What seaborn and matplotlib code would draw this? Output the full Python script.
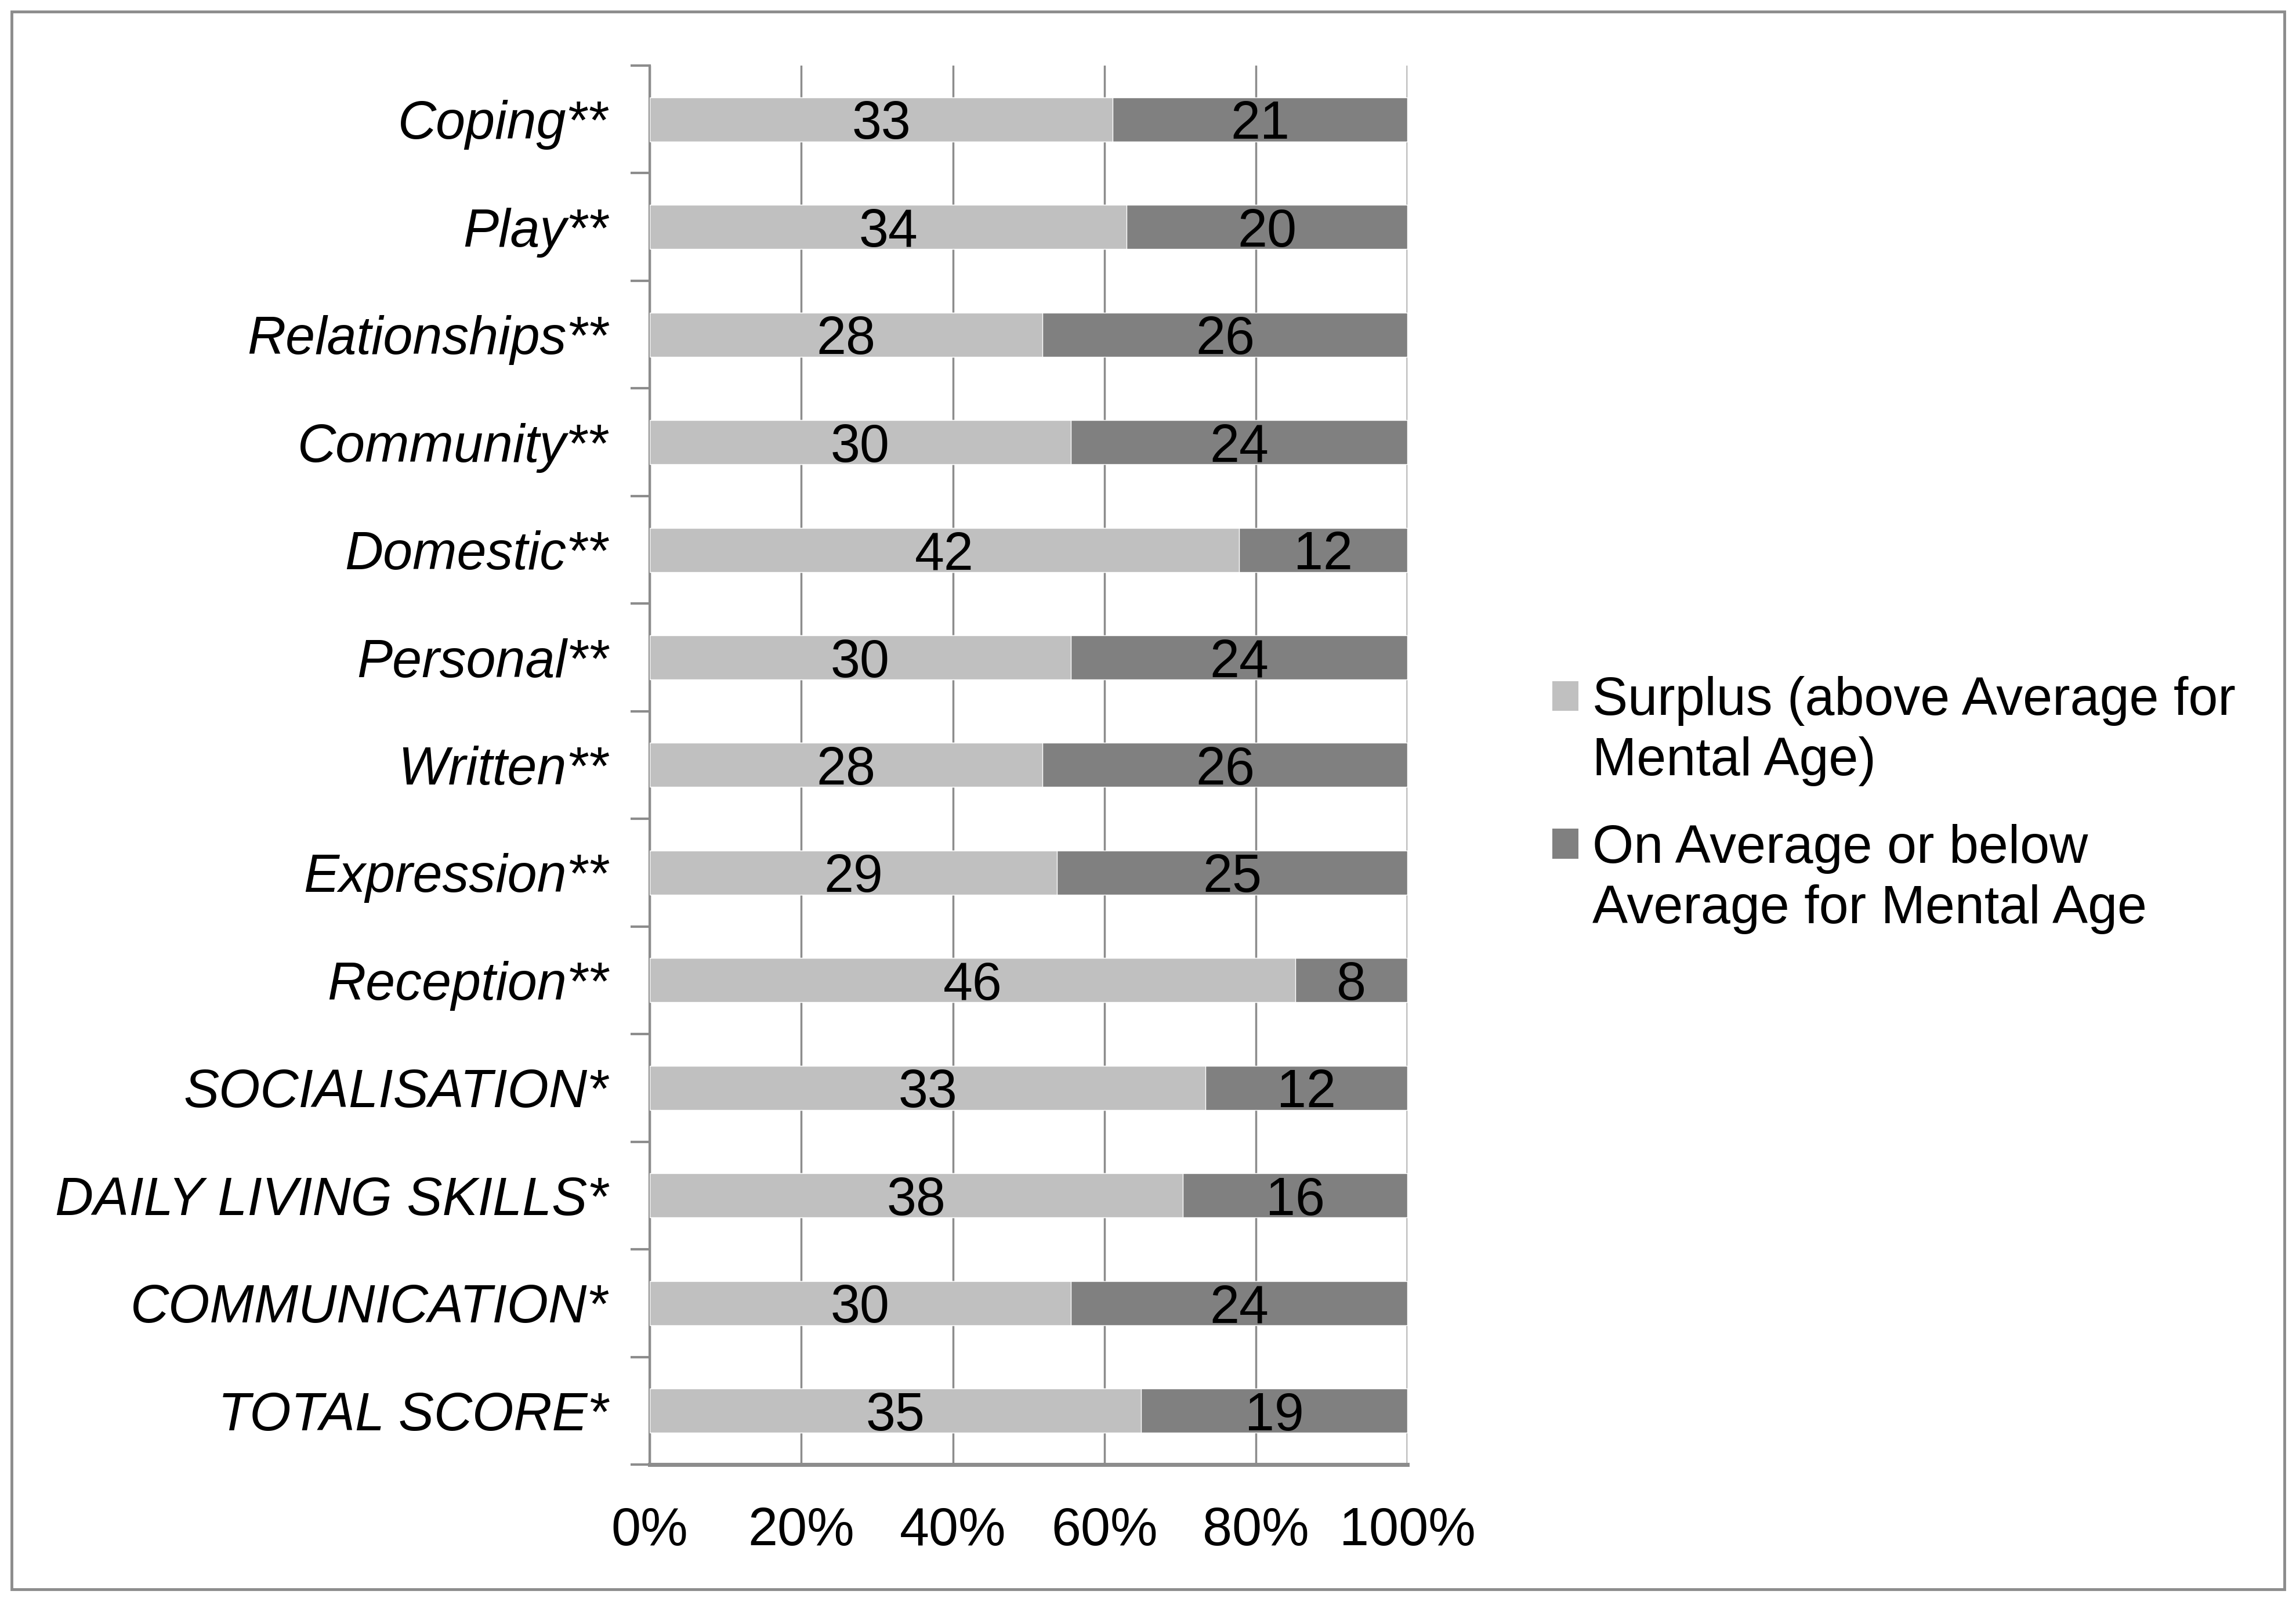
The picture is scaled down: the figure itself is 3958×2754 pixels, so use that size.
import numpy as np
import pandas as pd
import matplotlib
matplotlib.use("Agg")
import matplotlib.pyplot as plt
import seaborn as sns
from matplotlib.patches import Rectangle

categories = ['Coping**', 'Play**', 'Relationships**', 'Community**', 'Domestic**',
              'Personal**', 'Written**', 'Expression**', 'Reception**',
              'SOCIALISATION*', 'DAILY LIVING SKILLS*', 'COMMUNICATION*', 'TOTAL SCORE*']
surplus = [33, 34, 28, 30, 42, 30, 28, 29, 46, 33, 38, 30, 35]
below = [21, 20, 26, 24, 12, 24, 26, 25, 8, 12, 16, 24, 19]
x_ticks = [0, 20, 40, 60, 80, 100]
x_tick_labels = ['0%', '20%', '40%', '60%', '80%', '100%']
legend_lines = [['Surplus (above Average for', 'Mental Age)'],
                ['On Average or below', 'Average for Mental Age']]

LIGHT = '#C0C0C0'
DARK = '#808080'
LINE = '#8C8C8C'
FS = 66

df = pd.DataFrame({'cat': categories, 'surplus': surplus, 'below': below})
df['total'] = df['surplus'] + df['below']
df['surplus_pct'] = df['surplus'] / df['total'] * 100
df['full_pct'] = 100.0

sns.set_style("white")
plt.rcParams['font.family'] = ['Liberation Sans', 'DejaVu Sans']
plt.rcParams['text.color'] = 'black'
plt.rcParams['xtick.labelcolor'] = 'black'
plt.rcParams['ytick.labelcolor'] = 'black'

fig = plt.figure(figsize=(39.58, 27.54), dpi=100)
ax = fig.add_axes([0.283, 0.0835, 0.330, 0.8755])

# stacked: full bar in dark, surplus share on top in light
sns.barplot(data=df, x='full_pct', y='cat', color=DARK, width=0.41,
            saturation=1, ax=ax, zorder=2)
sns.barplot(data=df, x='surplus_pct', y='cat', color=LIGHT, width=0.41,
            saturation=1, ax=ax, zorder=3)

# value labels in the middle of each segment
for i, row in df.iterrows():
    ax.text(row['surplus_pct'] / 2, i, str(row['surplus']),
            ha='center', va='center_baseline', fontsize=FS, color='black', zorder=4)
    ax.text((row['surplus_pct'] + 100) / 2, i, str(row['below']),
            ha='center', va='center_baseline', fontsize=FS, color='black', zorder=4)

ax.set_xlim(0, 100)
ax.set_ylim(len(categories) - 0.5, -0.5)
ax.set_axisbelow(True)
ax.xaxis.grid(True, color=LINE, linewidth=2.5)
ax.yaxis.grid(False)

ax.set_xticks(x_ticks, x_tick_labels)
ax.tick_params(axis='x', length=0, pad=52, labelsize=FS)
ax.tick_params(axis='y', which='major', length=0, pad=52, labelsize=FS)
ax.set_yticks(np.arange(-0.5, len(categories), 1), minor=True)
ax.tick_params(axis='y', which='minor', left=True, length=24, width=3, color=LINE)
for lbl in ax.get_yticklabels():
    lbl.set_style('italic')
ax.set_xlabel('')
ax.set_ylabel('')

for s in ['top', 'right']:
    ax.spines[s].set_visible(False)
ax.spines['left'].set_color(LINE)
ax.spines['left'].set_linewidth(3)
ax.spines['bottom'].set_color(LINE)
ax.spines['bottom'].set_linewidth(5)

# one legend per entry so the marker sits by the first line
for col, lines, top in zip([LIGHT, DARK], legend_lines, [0.577, 0.4845]):
    handles = [Rectangle((0, 0), 1, 1, facecolor=col, edgecolor='none')]
    handles += [Rectangle((0, 0), 1, 1, facecolor='none', edgecolor='none')
                for _ in lines[1:]]
    fig.legend(handles, lines, loc='upper left', bbox_to_anchor=(0.676, top),
               frameon=False, fontsize=FS, handlelength=0.49, handleheight=0.49,
               handletextpad=0.27, labelspacing=0.2, borderpad=0, borderaxespad=0)

fig.patches.append(Rectangle((0.005, 0.0054), 0.99, 0.9873, transform=fig.transFigure,
                             fill=False, edgecolor=LINE, linewidth=3.5))

fig.savefig('out.png', dpi=100)
